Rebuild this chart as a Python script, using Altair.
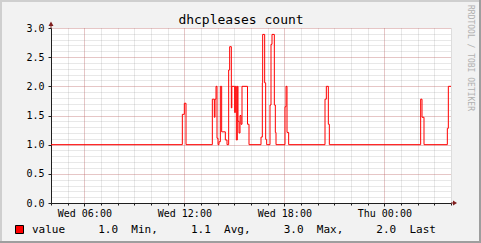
import altair as alt
import pandas as pd

# time in hours since Wed 00:00 (Thu 00:00 = 24), step-after samples
times_h = [4.00, 11.88, 12.00, 12.10, 13.68, 13.80, 13.84, 13.90, 13.96, 14.02,
           14.08, 14.16, 14.24, 14.46, 14.56, 14.66, 14.72, 14.82, 14.85, 15.02,
           15.06, 15.12, 15.18, 15.22, 15.28, 15.34, 15.40, 15.46, 15.79, 15.88,
           16.60, 16.68, 16.70, 16.82, 16.88, 16.94, 17.14, 17.20, 17.26, 17.40,
           17.46, 17.50, 18.04, 18.10, 18.16, 18.26, 20.44, 20.52, 20.64, 20.70,
           26.18, 26.26, 26.38, 27.78, 27.84, 28.00]
values = [1.0, 1.52, 1.71, 1.0, 1.78, 1.47, 1.78, 2.0, 1.11, 1.0,
          1.05, 2.0, 1.22, 1.08, 1.0, 2.28, 2.68, 1.63, 2.0, 1.55,
          2.0, 1.08, 2.0, 1.4, 1.2, 1.5, 1.35, 2.0, 1.35, 1.0,
          1.13, 2.06, 2.89, 2.06, 1.09, 1.0, 1.68, 2.72, 2.89, 1.68,
          1.21, 1.0, 1.65, 2.0, 1.21, 1.0, 1.78, 2.0, 1.35, 1.0,
          1.78, 1.47, 1.0, 1.28, 2.0, 2.0]
series_name = "value"
series_color = "#ff0000"

x_domain = [4, 28]
y_domain = [0, 3]
x_major = [6, 12, 18, 24]
x_labels = ["Wed 06:00", "Wed 12:00", "Wed 18:00", "Thu 00:00"]
x_minor = list(range(4, 29))
y_major = [0.0, 0.5, 1.0, 1.5, 2.0, 2.5, 3.0]
y_minor = [round(i * 0.1, 1) for i in range(31)]

stat_values = [1.0, 1.1, 3.0, 2.0]
stat_names = ["Min,", "Avg,", "Max,", "Last"]

title_text = "dhcpleases count"
watermark_text = "RRDTOOL / TOBI OETIKER"

NB = "\u00a0"
legend_label = series_name + NB * 5 + (NB * 5).join(
    f"{v:.1f}{NB * 2}{n}" for v, n in zip(stat_values, stat_names))

label_expr = "''"
for v, l in zip(reversed(x_major), reversed(x_labels)):
    label_expr = f"datum.value == {v} ? '{l}' : ({label_expr})"

df = pd.DataFrame({"t": times_h, "v": values, "s": [series_name] * len(values)})
one = pd.DataFrame({"k": [0]})
leg = pd.DataFrame({"s": [series_name]})

FONT = "DejaVu Sans Mono"
W, H = 400, 175
xs = alt.Scale(domain=x_domain, nice=False, zero=False)
ys = alt.Scale(domain=y_domain, nice=False)

minor = alt.Chart(df).mark_line(opacity=0).encode(
    x=alt.X("t:Q", scale=xs, axis=alt.Axis(
        orient="bottom", values=x_minor, labels=False, ticks=True, tickSize=2,
        tickColor="#1f1f1f", domain=False, grid=True, gridColor="#8f8f8f",
        gridOpacity=0.4, gridDash=[1, 1], title=None)),
    y=alt.Y("v:Q", scale=ys, axis=alt.Axis(
        orient="left", values=y_minor, labels=False, ticks=False, domain=False,
        grid=True, gridColor="#8f8f8f", gridOpacity=0.4, gridDash=[1, 1],
        title=None)),
)

line = alt.Chart(df).mark_line(interpolate="step-after", strokeWidth=1,
                               color=series_color).encode(
    x=alt.X("t:Q", scale=xs, axis=alt.Axis(
        orient="bottom", values=x_major, labelExpr=label_expr, labelFont=FONT,
        labelFontSize=10, labelColor="black", labelPadding=2, tickSize=3,
        tickColor="#1f1f1f", domainColor="#1f1f1f", grid=True,
        gridColor="#de4f4f", gridOpacity=0.45, gridDash=[1, 1], title=None)),
    y=alt.Y("v:Q", scale=ys, axis=alt.Axis(
        orient="left", values=y_major, format=".1f", labelFont=FONT,
        labelFontSize=10, labelColor="black", labelPadding=4, tickSize=3,
        tickColor="#1f1f1f", domainColor="#1f1f1f", grid=True,
        gridColor="#de4f4f", gridOpacity=0.45, gridDash=[1, 1], title=None)),
)

legend_layer = alt.Chart(leg).mark_square(
    filled=True, stroke="black", strokeWidth=1, size=0, opacity=1).encode(
    x=alt.XDatum(x_domain[0], axis=None), y=alt.YDatum(y_domain[0], axis=None),
    fill=alt.Fill("s:N", scale=alt.Scale(range=[series_color]), legend=alt.Legend(
        orient="none", legendX=-37, legendY=196, title=None, symbolType="square",
        symbolSize=64, symbolStrokeWidth=1, symbolOpacity=1, labelFont=FONT,
        labelFontSize=11, labelColor="black", labelOffset=7, labelLimit=0,
        labelExpr=f"'{legend_label}'")),
)

yarrow = alt.Chart(one).mark_point(
    shape="M-0.1,0L-0.1,-0.4L-0.5,-0.4L0,-1.3L0.5,-0.4L0.1,-0.4L0.1,0Z",
    size=100, filled=True, color="#801f1f", opacity=1).encode(
    x=alt.XDatum(x_domain[0], axis=None), y=alt.YDatum(y_domain[1], axis=None))
xarrow = alt.Chart(one).mark_point(
    shape="M0,-0.1L0.4,-0.1L0.4,-0.5L1.2,0L0.4,0.5L0.4,0.1L0,0.1Z",
    size=100, filled=True, color="#801f1f", opacity=1).encode(
    x=alt.XDatum(x_domain[1], axis=None), y=alt.YDatum(y_domain[0], axis=None))

watermark = alt.Chart(one).mark_text(
    text=watermark_text, angle=90, align="left", baseline="middle", font=FONT,
    fontSize=8, color="#b0b0b0").encode(x=alt.value(419), y=alt.value(-23))

frame_light = "#cfcfcf"
frame_dark = "#9e9e9e"
top_b = alt.Chart(one).mark_rule(color=frame_light, strokeWidth=2).encode(
    x=alt.value(-51), x2=alt.value(430), y=alt.value(-27))
left_b = alt.Chart(one).mark_rule(color=frame_light, strokeWidth=2).encode(
    x=alt.value(-50), y=alt.value(-28), y2=alt.value(215))
right_b = alt.Chart(one).mark_rule(color=frame_dark, strokeWidth=2).encode(
    x=alt.value(429), y=alt.value(-28), y2=alt.value(215))
bottom_b = alt.Chart(one).mark_rule(color=frame_dark, strokeWidth=2).encode(
    x=alt.value(-51), x2=alt.value(430), y=alt.value(214))

chart = alt.layer(minor, line, legend_layer, yarrow, xarrow, watermark,
                  top_b, left_b, right_b, bottom_b).resolve_axis(
    x="independent", y="independent"
).properties(
    width=W, height=H,
    title=alt.TitleParams(title_text, font=FONT, fontSize=13, fontWeight="normal",
                          color="black", anchor="middle", dx=-10, dy=44, offset=6,
                          baseline="alphabetic"),
    autosize=alt.AutoSizeParams(type="none"),
    padding={"left": 51, "top": 28, "right": 30, "bottom": 40},
    background="#f2f2f2",
).configure_view(stroke=None, fill="white")

chart.save("out.html", embed_options={"renderer": "svg", "actions": False})
